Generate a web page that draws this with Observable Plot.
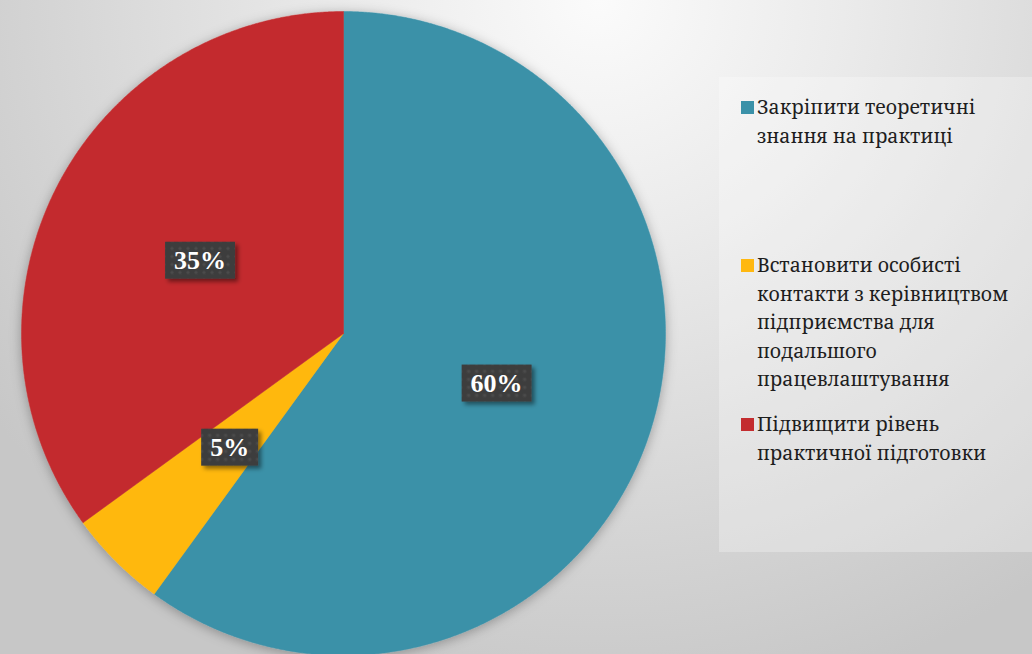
<!DOCTYPE html>
<html>
<head>
<meta charset="utf-8">
<script src="https://cdn.jsdelivr.net/npm/d3@7"></script>
<script src="https://cdn.jsdelivr.net/npm/@observablehq/plot@0.6"></script>
<style>
  html, body { margin: 0; padding: 0; }
  #wrap {
    position: relative; width: 1032px; height: 654px; overflow: hidden;
    background: radial-gradient(ellipse 72% 110% at 58% 0%, #fbfbfb 0%, #ebebeb 33%, #d8d8d8 68%, #c7c7c7 100%);
  }
  #chart { position: absolute; left: 0; top: 0; }
  #legend {
    position: absolute; left: 719px; top: 77px; width: 313px; height: 475px;
    background: rgba(255,255,255,0.28);
    color: #1e1e1e;
  }
  .entry { position: absolute; left: 38px; white-space: nowrap;
    font-family: 'Noto Serif', 'DejaVu Serif', serif; font-size: 19.5px; line-height: 28.5px; }
  .sw { position: absolute; left: -16px; top: 8px; width: 13px; height: 13px; }
</style>
</head>
<body>
<div id="wrap">
  <div id="chart"></div>
  <div id="legend"></div>
</div>
<script>
const categories = [
  "Закріпити теоретичні знання на практиці",
  "Встановити особисті контакти з керівництвом підприємства для подальшого працевлаштування",
  "Підвищити рівень практичної підготовки"
];
const legendLines = [
  ["Закріпити теоретичні", "знання на практиці"],
  ["Встановити особисті", "контакти з керівництвом", "підприємства для", "подальшого", "працевлаштування"],
  ["Підвищити рівень", "практичної підготовки"]
];
const values = [60, 5, 35];
const labels = ["60%", "5%", "35%"];
const colors = ["#3A91A8", "#FFB810", "#C32C2F"];

const arcs = d3.pie().sort(null)(values);
const poly = [];
arcs.forEach((a, i) => {
  poly.push({cat: categories[i], x: 0, y: 0});
  const n = Math.max(8, Math.ceil((a.endAngle - a.startAngle) / 0.005));
  for (let k = 0; k <= n; k++) {
    const t = a.startAngle + (a.endAngle - a.startAngle) * k / n;
    poly.push({cat: categories[i], x: Math.sin(t), y: Math.cos(t)});
  }
  poly.push({cat: categories[i], x: 0, y: 0});
});
const labelData = arcs.map((a, i) => {
  const m = (a.startAngle + a.endAngle) / 2;
  return {label: labels[i], x: 0.5 * Math.sin(m), y: 0.5 * Math.cos(m)};
});

const plot = Plot.plot({
  width: 1032, height: 654,
  x: {domain: [-1, 1], range: [21, 665], axis: null},
  y: {domain: [-1, 1], range: [655, 11], axis: null},
  color: {domain: categories, range: colors},
  style: {background: "transparent", overflow: "visible"},
  marks: [
    Plot.line(poly, {x: "x", y: "y", z: "cat", fill: "cat", stroke: "cat", strokeWidth: 0.5, curve: "linear"}),
    Plot.text(labelData, {x: "x", y: "y", text: "label", fill: "white", fontSize: 26, fontWeight: "bold",
      fontFamily: "Liberation Serif, Times New Roman, serif"})
  ]
});
document.getElementById("chart").appendChild(plot);

const svg = d3.select(plot);
const defs = svg.insert("defs", ":first-child");
const pat = defs.append("pattern").attr("id", "dots").attr("patternUnits", "userSpaceOnUse")
  .attr("width", 8).attr("height", 8);
pat.append("rect").attr("width", 8).attr("height", 8).attr("fill", "#3e3e3e");
pat.append("circle").attr("cx", 4).attr("cy", 4).attr("r", 1.6).attr("fill", "#4b4b4b");
const f1 = defs.append("filter").attr("id", "pieShadow").attr("x", "-20%").attr("y", "-20%").attr("width", "140%").attr("height", "140%");
f1.append("feDropShadow").attr("dx", 0).attr("dy", 2).attr("stdDeviation", 6).attr("flood-color", "#000").attr("flood-opacity", 0.3);
const f2 = defs.append("filter").attr("id", "boxShadow").attr("x", "-30%").attr("y", "-30%").attr("width", "160%").attr("height", "160%");
f2.append("feDropShadow").attr("dx", 3).attr("dy", 3).attr("stdDeviation", 2).attr("flood-color", "#000").attr("flood-opacity", 0.45);

svg.select('g[aria-label="line"]').attr("filter", "url(#pieShadow)");
const tg = svg.select('g[aria-label="text"]');
tg.selectAll("text").each(function () {
  const b = this.getBBox();
  const cy = b.y + b.height / 2;
  const tr = this.getAttribute("transform");
  const r = d3.select(this.parentNode).insert("rect", () => this)
    .attr("x", b.x - 9).attr("y", cy - 18.5).attr("width", b.width + 18).attr("height", 37)
    .attr("fill", "url(#dots)").attr("filter", "url(#boxShadow)");
  if (tr) r.attr("transform", tr);
});

const tops = [16, 174, 333];
const leg = d3.select("#legend");
legendLines.forEach((lines, i) => {
  const e = leg.append("div").attr("class", "entry").style("top", tops[i] + "px");
  e.append("div").attr("class", "sw").style("background", colors[i]);
  lines.forEach((l, j) => {
    if (j > 0) e.append("br");
    e.append("span").text(l);
  });
});
</script>
</body>
</html>
